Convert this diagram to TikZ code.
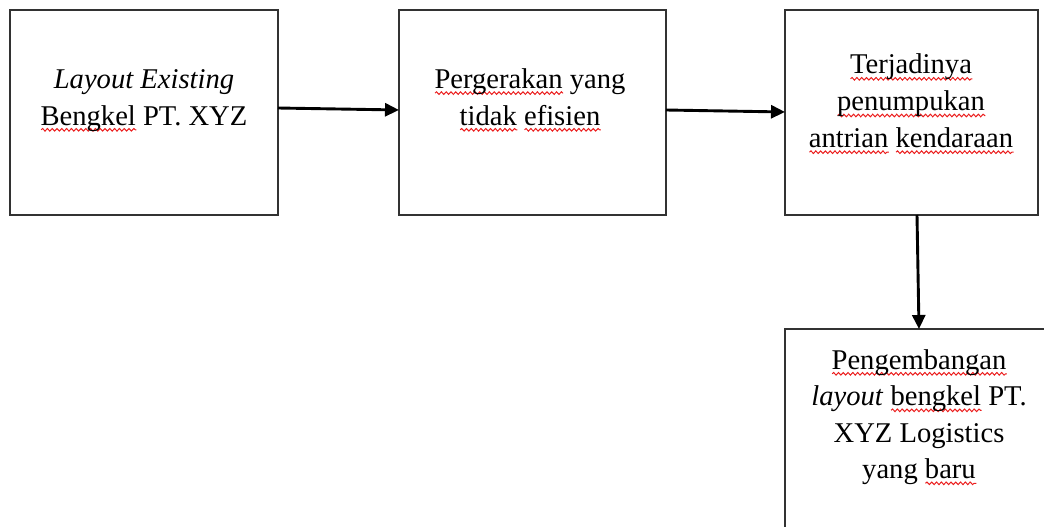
\documentclass[tikz,border=0pt]{standalone}
\usepackage{fontspec}
\setmainfont{Liberation Serif}
\usetikzlibrary{arrows.meta,decorations.pathmorphing}
\definecolor{squigred}{RGB}{235,30,30}
\definecolor{boxline}{RGB}{50,50,50}
\tikzset{
  squig/.style={squigred, line width=1pt, decorate,
    decoration={snake, amplitude=1.3pt, segment length=4.8pt}},
  box/.style={draw=boxline, line width=1.7pt, inner sep=0pt, outer sep=0pt},
  txt/.style={anchor=base, inner sep=0pt, outer sep=0pt,
    font=\fontsize{28.6pt}{36.7pt}\selectfont},
  arr/.style={draw=black, line width=2.9pt,
    -{Triangle[length=14pt,width=13pt]}, shorten >=0pt}
}
\newsavebox\sqbox
\newcommand\sq[1]{\sbox\sqbox{#1}\rlap{\tikz[baseline=0pt]\draw[squig] (0pt,-4.8pt) -- (\wd\sqbox,-4.8pt);}\usebox\sqbox}
\begin{document}
\begin{tikzpicture}[x=1pt,y=-1pt]
\useasboundingbox (0,0) rectangle (1044,527);
\clip (0,0) rectangle (1044,527);
% boxes
\node[box, minimum width=268pt, minimum height=205pt] (b1) at (144,112.5) {};
\node[box, minimum width=267pt, minimum height=205pt] (b2) at (532.5,112.5) {};
\node[box, minimum width=253pt, minimum height=205pt] (b3) at (911.5,112.5) {};
\node[box, minimum width=268pt, minimum height=210pt] (b4) at (919,434) {};
% texts
\node[txt] (t1a) at (144,88.3) {\textit{Layout Existing}};
\node[txt] (t1b) at (144,125) {\sq{Bengkel} PT. XYZ};
\node[txt] (t2a) at (530,88.3) {\sq{Pergerakan} yang};
\node[txt] (t2b) at (530,125) {\sq{tidak} \sq{efisien}};
\node[txt] (t3a) at (911,74) {\sq{Terjadinya}};
\node[txt] (t3b) at (911,110.7) {\sq{penumpukan}};
\node[txt] (t3c) at (911,147.4) {\sq{antrian} \sq{kendaraan}};
\node[txt] (t4a) at (919,369) {\sq{Pengembangan}};
\node[txt] (t4b) at (919,405.5) {\textit{layout} \sq{bengkel} PT.};
\node[txt] (t4c) at (919,442) {XYZ Logistics};
\node[txt] (t4d) at (919,478.5) {yang \sq{baru}};
% connectors
\draw[arr] ([yshift=4.5pt]b1.east) -- ([yshift=2.5pt]b2.west);
\draw[arr] ([yshift=2.5pt]b2.east) -- ([yshift=0.5pt]b3.west);
\draw[arr] ([xshift=5.5pt]b3.south) -- ([xshift=0pt]b4.north);
\end{tikzpicture}
\end{document}
